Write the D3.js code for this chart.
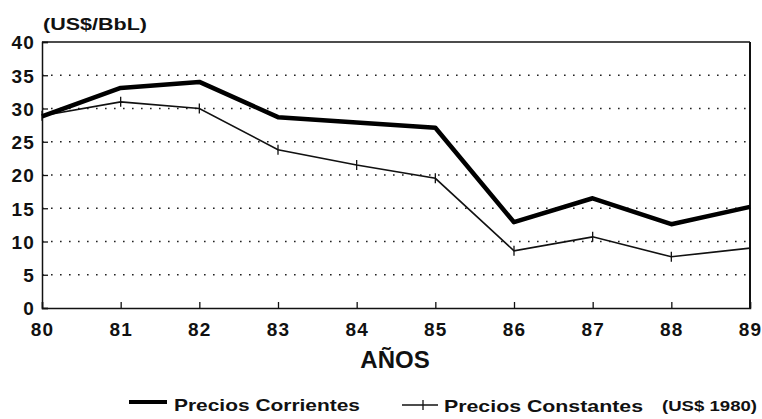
<!DOCTYPE html>
<html>
<head>
<meta charset="utf-8">
<script src="https://cdn.jsdelivr.net/npm/d3@7"></script>
<style>
  body { margin: 0; background: #fff; }
  text { font-family: "Liberation Sans", Arial, sans-serif; fill: #111; }
</style>
</head>
<body>
<div id="chart"></div>
<script>
// Data
const years = [80, 81, 82, 83, 84, 85, 86, 87, 88, 89];
const corrientes = [28.8, 33.1, 34.0, 28.7, 27.9, 27.1, 12.9, 16.5, 12.6, 15.2];
const constantes = [28.9, 31.0, 30.0, 23.8, 21.5, 19.5, 8.6, 10.7, 7.7, 9.0];
const yTicks = [0, 5, 10, 15, 20, 25, 30, 35, 40];

const W = 762, H = 419;
const margin = { top: 42, right: 12, bottom: 111, left: 42 };
const width = W - margin.left - margin.right;
const height = H - margin.top - margin.bottom;

const svg = d3.select('#chart').append('svg')
    .attr('width', W)
    .attr('height', H);

const g = svg.append('g')
    .attr('transform', `translate(${margin.left},${margin.top})`);

const x = d3.scaleLinear().domain([80, 89]).range([0, width]);
const y = d3.scaleLinear().domain([0, 40]).range([height, 0]);

// dotted grid
g.append('g')
    .selectAll('line')
    .data(yTicks.filter(d => d > 0 && d < 40))
    .join('line')
    .attr('x1', 0)
    .attr('x2', width)
    .attr('y1', d => y(d))
    .attr('y2', d => y(d))
    .attr('stroke', '#222')
    .attr('stroke-width', 1.6)
    .attr('stroke-dasharray', '1.6,7.4');

// frame: top and right solid lines
g.append('line').attr('x1', 0).attr('x2', width).attr('y1', 0).attr('y2', 0)
    .attr('stroke', '#111').attr('stroke-width', 1.5);
g.append('line').attr('x1', width).attr('x2', width).attr('y1', 0).attr('y2', height)
    .attr('stroke', '#111').attr('stroke-width', 2);

// y axis
const yAxis = g.append('g')
    .call(d3.axisLeft(y).tickValues(yTicks).tickSize(-6).tickPadding(7));
yAxis.select('.domain').attr('stroke', '#111').attr('stroke-width', 1.5);
yAxis.selectAll('.tick line').attr('stroke', '#111').attr('stroke-width', 1.3);
yAxis.selectAll('text')
    .style('font-size', '19px')
    .style('font-weight', 'bold')
    .style('letter-spacing', '1.2px')
    .attr('dy', '0.36em');

// x axis
const xAxis = g.append('g')
    .attr('transform', `translate(0,${height})`)
    .call(d3.axisBottom(x).tickValues(years).tickFormat(d3.format('d')).tickSize(-6).tickPadding(15));
xAxis.select('.domain').attr('stroke', '#111').attr('stroke-width', 1.5);
xAxis.selectAll('.tick line').attr('stroke', '#111').attr('stroke-width', 1.3);
xAxis.selectAll('text')
    .style('font-size', '19px')
    .style('font-weight', 'bold')
    .style('letter-spacing', '1.2px');

// lines
const line = d3.line().x((d, i) => x(years[i])).y(d => y(d));

g.append('path')
    .datum(constantes)
    .attr('fill', 'none')
    .attr('stroke', '#111')
    .attr('stroke-width', 1.6)
    .attr('d', line);

g.append('g')
    .selectAll('line')
    .data(constantes)
    .join('line')
    .attr('x1', (d, i) => x(years[i]))
    .attr('x2', (d, i) => x(years[i]))
    .attr('y1', d => y(d) - 5)
    .attr('y2', d => y(d) + 5)
    .attr('stroke', '#111')
    .attr('stroke-width', 1.3);

g.append('path')
    .datum(corrientes)
    .attr('fill', 'none')
    .attr('stroke', '#000')
    .attr('stroke-width', 4.5)
    .attr('stroke-linejoin', 'round')
    .attr('d', line);

// unit label
svg.append('text')
    .attr('x', 43)
    .attr('y', 30)
    .attr('textLength', 104)
    .attr('lengthAdjust', 'spacingAndGlyphs')
    .style('font-size', '17px')
    .style('font-weight', 'bold')
    .text('(US$/BbL)');

// x title
svg.append('text')
    .attr('x', 395)
    .attr('y', 368)
    .attr('text-anchor', 'middle')
    .style('font-size', '24px')
    .style('font-weight', 'bold')
    .text('AÑOS');

// legend
svg.append('line')
    .attr('x1', 129).attr('x2', 167).attr('y1', 402).attr('y2', 402)
    .attr('stroke', '#000').attr('stroke-width', 4);
svg.append('text')
    .attr('x', 174).attr('y', 411)
    .attr('textLength', 186)
    .attr('lengthAdjust', 'spacingAndGlyphs')
    .style('font-size', '17px')
    .style('font-weight', 'bold')
    .text('Precios Corrientes');

svg.append('line')
    .attr('x1', 402).attr('x2', 438).attr('y1', 405).attr('y2', 405)
    .attr('stroke', '#111').attr('stroke-width', 1.5);
svg.append('line')
    .attr('x1', 423).attr('x2', 423).attr('y1', 400).attr('y2', 410)
    .attr('stroke', '#111').attr('stroke-width', 1.3);
svg.append('text')
    .attr('x', 444).attr('y', 412)
    .attr('textLength', 199)
    .attr('lengthAdjust', 'spacingAndGlyphs')
    .style('font-size', '17px')
    .style('font-weight', 'bold')
    .text('Precios Constantes');
svg.append('text')
    .attr('x', 662).attr('y', 411)
    .attr('textLength', 95)
    .attr('lengthAdjust', 'spacingAndGlyphs')
    .style('font-size', '14px')
    .style('font-weight', 'bold')
    .text('(US$ 1980)');
</script>
</body>
</html>
